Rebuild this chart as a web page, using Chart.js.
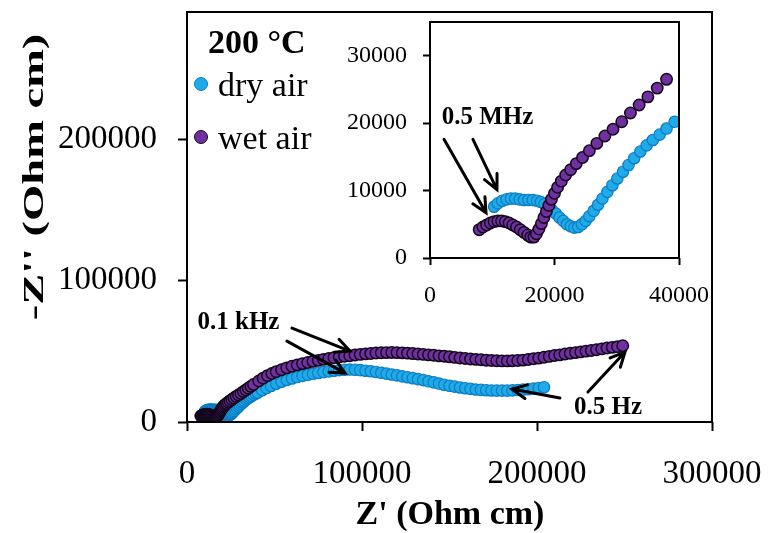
<!DOCTYPE html>
<html>
<head>
<meta charset="utf-8">
<script src="https://cdn.jsdelivr.net/npm/chart.js@4.4.1/dist/chart.umd.min.js"></script>
<style>
  body { margin: 0; background: #fff; }
  #wrap { position: relative; width: 768px; height: 533px; }
  #main { position: absolute; left: 0; top: 0; }
  #inset { position: absolute; left: 330px; top: 12px; }
</style>
</head>
<body>
<div id="wrap">
  <canvas id="main" width="768" height="533"></canvas>
  <canvas id="inset" width="390" height="300"></canvas>
</div>
<script>
// Dados (Z' e -Z'' em Ohm cm), da alta para a baixa frequência
const legendTitle = '200 °C';
const seriesNames = ['dry air', 'wet air'];

const dryX = [10300, 10900, 11600, 12300, 13000, 13700, 14400, 15100, 15800, 16500,
  17200, 17800, 18400, 19000, 19600, 20200, 20800, 21400, 22000, 22600,
  23200, 23800, 24400, 25000, 25600, 26300, 27000, 27700, 28500, 29300,
  30100, 31000, 31900, 32800, 33800, 34800, 35800, 36900, 38000, 39300,
  40500, 43000, 45500, 48000, 51000, 54000, 57000, 60000, 63000, 66000,
  69000, 72000, 75000, 78000, 81000, 84000, 87000, 90000, 93000, 96000,
  99000, 102000, 105000, 108000, 111000, 114000, 117000, 120000, 123000, 126000,
  129000, 132000, 135000, 138000, 141000, 144000, 147000, 150000, 153000, 156000,
  159000, 162000, 165000, 168000, 171000, 174000, 177000, 180000, 183000, 186000,
  189000, 192000, 195000, 198000, 201000, 204000];
const dryY = [7600, 8100, 8500, 8700, 8800, 8800, 8700, 8600, 8600, 8600,
  8500, 8300, 8000, 7600, 7100, 6600, 6000, 5500, 5000, 4700,
  4500, 4600, 5000, 5500, 6200, 7000, 7900, 8800, 9800, 10800,
  11800, 12800, 13800, 14800, 15800, 16700, 17500, 18300, 19200, 20200,
  20900, 22500, 24000, 25500, 27100, 28500, 29700, 30800, 31800, 32600,
  33400, 34100, 34700, 35300, 35800, 36300, 36700, 37000, 37100, 37000,
  36700, 36300, 35900, 35400, 34800, 34200, 33600, 33000, 32300, 31700,
  31000, 30300, 29600, 28800, 28000, 27200, 26400, 25600, 25000, 24400,
  23900, 23400, 23000, 22700, 22500, 22300, 22200, 22200, 22200, 22400,
  22600, 22900, 23200, 23600, 24100, 24600];

const wetX = [7900, 8500, 9100, 9700, 10300, 10900, 11500, 12100, 12700, 13300,
  13900, 14500, 15100, 15700, 16200, 16700, 17100, 17500, 17900, 18300,
  18700, 19100, 19500, 20000, 20500, 21100, 21800, 22600, 23500, 24500,
  25600, 26800, 28100, 29400, 30800, 32200, 33600, 35000, 36500, 38000,
  41000, 43500, 46000, 48500, 51000, 54000, 57000, 60000, 63000, 66000,
  69000, 72000, 75000, 78000, 81000, 84000, 87000, 90000, 93000, 96000,
  99000, 102000, 105000, 108000, 111000, 114000, 117000, 120000, 123000, 126000,
  129000, 132000, 135000, 138000, 141000, 144000, 147000, 150000, 153000, 156000,
  159000, 162000, 165000, 168000, 171000, 174000, 177000, 180000, 183000, 186000,
  189000, 192000, 195000, 198000, 201000, 204000, 207000, 210000, 213000, 216000,
  219000, 222000, 225000, 228000, 231000, 234000, 237000, 240000, 243000, 246000,
  249000];
const wetY = [4200, 4600, 4900, 5200, 5400, 5500, 5500, 5400, 5200, 4900,
  4600, 4200, 3800, 3400, 3100, 3100, 3600, 4300, 5100, 6000,
  6900, 7800, 8700, 9600, 10500, 11400, 12300, 13100, 14000, 14900,
  15900, 17000, 18100, 19100, 20200, 21500, 22700, 23900, 25200, 26500,
  29000, 31000, 32800, 34300, 35600, 37000, 38300, 39400, 40400, 41300,
  42100, 42900, 43600, 44300, 44900, 45500, 46000, 46500, 46900, 47400,
  47800, 48200, 48500, 48800, 49000, 49100, 49200, 49100, 48900, 48700,
  48400, 48100, 47800, 47500, 47200, 46800, 46500, 46100, 45700, 45300,
  44900, 44600, 44300, 44000, 43700, 43500, 43300, 43200, 43200, 43300,
  43500, 43800, 44200, 44700, 45200, 45800, 46400, 47000, 47500, 48100,
  48600, 49100, 49600, 50100, 50600, 51100, 51700, 52300, 52800, 53300,
  53900];

const mainXTicks = [0, 100000, 200000, 300000];
const mainYTicks = [0, 100000, 200000];
const insetXTicks = [0, 20000, 40000];
const insetYTicks = [0, 10000, 20000, 30000];

// Anotações de frequência (em coordenadas de dados)
const mainNotes = [
  { text: '0.1 kHz', at: [29400, 70300], arrows: [[[60000, 66400], [93100, 50200]], [[57100, 57200], [90300, 34600]]] },
  { text: '0.5 Hz', at: [240600, 10200], arrows: [[[229100, 21200], [250300, 49500]], [[213100, 17000], [185700, 23300]]] }
];
const insetNotes = [
  { text: '0.5 MHz', at: [9240, 20900], arrows: [[[2250, 17600], [9000, 6700]], [[6900, 17600], [10760, 10150]]] }
];

const dryFill = 'rgb(32,170,232)', dryEdge = 'rgb(10,125,195)';
const wetFill = 'rgb(112,48,160)', wetEdge = 'rgb(20,8,30)';
const serif = "'Liberation Serif', 'Times New Roman', serif";

function toPoints(xs, ys, xmax, ymax) {
  const pts = [];
  xs.forEach((x, i) => {
    if (x <= xmax && ys[i] <= ymax) pts.push({ x: x, y: ys[i] });
  });
  return pts;
}

function makeDatasets(xmax, ymax) {
  return [
    { label: seriesNames[0], data: toPoints(dryX, dryY, xmax, ymax), order: 1,
      backgroundColor: dryFill, borderColor: dryEdge, pointBackgroundColor: dryFill, pointBorderColor: dryEdge,
      pointRadius: 5.7, pointBorderWidth: 1.2, showLine: false },
    { label: seriesNames[1], data: toPoints(wetX, wetY, xmax, ymax), order: 0,
      backgroundColor: wetFill, borderColor: wetEdge, pointBackgroundColor: wetFill, pointBorderColor: wetEdge,
      pointRadius: 5.7, pointBorderWidth: 1.5, showLine: false }
  ];
}

function makeAxis(ticks, max, fontSize, tickLen, pad, size, horizontal) {
  return {
    type: 'linear', min: 0, max: max,
    afterBuildTicks: s => { s.ticks = ticks.map(v => ({ value: v })); },
    afterFit: s => {
      if (horizontal) s.height = size; else s.width = size;
      s.paddingTop = s.paddingBottom = s.paddingLeft = s.paddingRight = 0;
    },
    grid: { display: true, drawOnChartArea: false, drawTicks: true, tickLength: tickLen, tickWidth: 2, tickColor: '#000' },
    border: { display: false },
    ticks: { autoSkip: false, maxRotation: 0, padding: pad, color: '#000',
      font: { family: serif, size: fontSize }, callback: v => String(v) }
  };
}

function drawArrow(ctx, x1, y1, x2, y2) {
  const a = Math.atan2(y2 - y1, x2 - x1);
  const h = 16, w = 0.45;
  ctx.beginPath();
  ctx.moveTo(x1, y1);
  ctx.lineTo(x2, y2);
  ctx.moveTo(x2 - h * Math.cos(a - w), y2 - h * Math.sin(a - w));
  ctx.lineTo(x2, y2);
  ctx.lineTo(x2 - h * Math.cos(a + w), y2 - h * Math.sin(a + w));
  ctx.stroke();
}

function drawNotes(chart, notes) {
  const ctx = chart.ctx, sx = chart.scales.x, sy = chart.scales.y;
  ctx.save();
  ctx.strokeStyle = '#000';
  ctx.fillStyle = '#000';
  ctx.lineWidth = 3;
  ctx.lineCap = 'round';
  notes.forEach(n => {
    n.arrows.forEach(ar => {
      drawArrow(ctx, sx.getPixelForValue(ar[0][0]), sy.getPixelForValue(ar[0][1]),
        sx.getPixelForValue(ar[1][0]), sy.getPixelForValue(ar[1][1]));
    });
    ctx.font = 'bold 25px ' + serif;
    ctx.textAlign = 'center';
    ctx.textBaseline = 'middle';
    ctx.fillText(n.text, sx.getPixelForValue(n.at[0]), sy.getPixelForValue(n.at[1]));
  });
  ctx.restore();
}

const framePlugin = {
  id: 'frame',
  afterDraw(chart) {
    const a = chart.chartArea, ctx = chart.ctx;
    ctx.save();
    ctx.strokeStyle = '#000';
    ctx.lineWidth = 2;
    ctx.strokeRect(a.left, a.top, a.right - a.left, a.bottom - a.top);
    ctx.restore();
  }
};

const mainExtras = {
  id: 'mainExtras',
  afterDraw(chart) {
    const ctx = chart.ctx;
    drawNotes(chart, mainNotes);
    ctx.save();
    ctx.fillStyle = '#000';
    // títulos dos eixos
    ctx.font = 'bold 34px ' + serif;
    ctx.textAlign = 'center';
    ctx.textBaseline = 'middle';
    ctx.fillText("Z' (Ohm cm)", 450, 515);
    ctx.save();
    ctx.translate(35, 177);
    ctx.rotate(-Math.PI / 2);
    ctx.scale(1.55, 1);
    ctx.font = 'bold 30px ' + serif;
    ctx.fillText("-Z'' (Ohm cm)", 0, 0);
    ctx.restore();
    // legenda
    ctx.textAlign = 'left';
    ctx.textBaseline = 'alphabetic';
    ctx.font = 'bold 34px ' + serif;
    ctx.fillText(legendTitle, 208, 53);
    ctx.font = '34px ' + serif;
    chart.data.datasets.forEach((ds, i) => {
      const y = 84 + i * 53;
      ctx.beginPath();
      ctx.arc(201, y, 6.5, 0, Math.PI * 2);
      ctx.fillStyle = ds.backgroundColor;
      ctx.fill();
      ctx.lineWidth = 1;
      ctx.strokeStyle = ds.borderColor;
      ctx.stroke();
      ctx.fillStyle = '#000';
      ctx.fillText(ds.label, 218, y + 12);
    });
    ctx.restore();
  }
};

const insetExtras = {
  id: 'insetExtras',
  afterDraw(chart) { drawNotes(chart, insetNotes); }
};

new Chart(document.getElementById('main'), {
  type: 'scatter',
  data: { datasets: makeDatasets(300000, 290000) },
  options: {
    responsive: false, animation: false, devicePixelRatio: 1,
    layout: { padding: { top: 12, right: 56, left: 0, bottom: 0 } },
    plugins: { legend: { display: false }, tooltip: { enabled: false } },
    scales: {
      x: makeAxis(mainXTicks, 300000, 33, 9, 24, 111, true),
      y: makeAxis(mainYTicks, 290000, 33, 9, 21, 187, false)
    }
  },
  plugins: [framePlugin, mainExtras]
});

new Chart(document.getElementById('inset'), {
  type: 'scatter',
  data: { datasets: makeDatasets(40000, 35000) },
  options: {
    responsive: false, animation: false, devicePixelRatio: 1,
    layout: { padding: { top: 10, right: 41, left: 0, bottom: 0 } },
    plugins: { legend: { display: false }, tooltip: { enabled: false } },
    scales: {
      x: makeAxis(insetXTicks, 40000, 24, 7, 16, 54, true),
      y: makeAxis(insetYTicks, 35000, 24, 7, 16, 100, false)
    }
  },
  plugins: [framePlugin, insetExtras]
});
</script>
</body>
</html>
